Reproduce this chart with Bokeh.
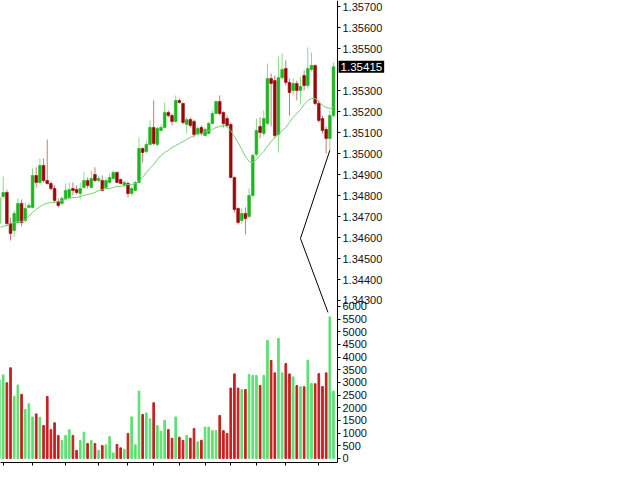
from bokeh.plotting import figure
from bokeh.models import Range1d, FixedTicker, CustomJSTickFormatter, ColumnDataSource, Label
from bokeh.embed import file_html
from bokeh.resources import INLINE

# ---- EURUSD M5 bars (bar 0 is the partly scrolled-off one on the left) ----
opens = [1.34667, 1.34796, 1.34815, 1.34667, 1.34634, 1.34672, 1.34763, 1.34682, 1.34744, 1.34744,
         1.34896, 1.34863, 1.34944, 1.34872, 1.34858, 1.34834, 1.34772, 1.34763, 1.34787, 1.34791,
         1.34834, 1.34829, 1.34810, 1.34839, 1.34872, 1.34839, 1.34901, 1.34872, 1.34872, 1.34839,
         1.34863, 1.34882, 1.34911, 1.34877, 1.34849, 1.34858, 1.34810, 1.34825, 1.34863, 1.35025,
         1.35011, 1.35044, 1.35125, 1.35044, 1.35111, 1.35125, 1.35197, 1.35182, 1.35154, 1.35254,
         1.35240, 1.35140, 1.35163, 1.35154, 1.35097, 1.35125, 1.35087, 1.35097, 1.35144, 1.35192,
         1.35249, 1.35197, 1.35168, 1.35140, 1.34887, 1.34739, 1.34682, 1.34715, 1.34701, 1.34801,
         1.34997, 1.35130, 1.35097, 1.35144, 1.35359, 1.35349, 1.35092, 1.35363, 1.35407, 1.35340,
         1.35302, 1.35335, 1.35302, 1.35373, 1.35325, 1.35402, 1.35421, 1.35240, 1.35168, 1.35116,
         1.35073, 1.35182]
highs = [1.34825, 1.34891, 1.34829, 1.34696, 1.34729, 1.34787, 1.34782, 1.34767, 1.34767, 1.34930,
         1.34935, 1.34977, 1.34977, 1.35068, 1.34868, 1.34849, 1.34787, 1.34796, 1.34858, 1.34863,
         1.34863, 1.34849, 1.34863, 1.34911, 1.34887, 1.34920, 1.34935, 1.34896, 1.34896, 1.34887,
         1.34906, 1.34920, 1.34915, 1.34882, 1.34872, 1.34868, 1.34844, 1.34872, 1.35078, 1.35030,
         1.35063, 1.35159, 1.35254, 1.35130, 1.35140, 1.35244, 1.35206, 1.35192, 1.35278, 1.35263,
         1.35244, 1.35173, 1.35173, 1.35163, 1.35130, 1.35135, 1.35125, 1.35154, 1.35206, 1.35254,
         1.35278, 1.35202, 1.35182, 1.35149, 1.34891, 1.34744, 1.34739, 1.34744, 1.34834, 1.35001,
         1.35168, 1.35173, 1.35206, 1.35430, 1.35383, 1.35373, 1.35464, 1.35478, 1.35445, 1.35359,
         1.35359, 1.35349, 1.35368, 1.35397, 1.35507, 1.35483, 1.35426, 1.35254, 1.35182, 1.35130,
         1.35206, 1.35435]
lows = [1.34653, 1.34787, 1.34653, 1.34586, 1.34605, 1.34662, 1.34653, 1.34672, 1.34739, 1.34739,
        1.34839, 1.34853, 1.34863, 1.34853, 1.34825, 1.34767, 1.34744, 1.34753, 1.34782, 1.34787,
        1.34801, 1.34806, 1.34782, 1.34834, 1.34834, 1.34834, 1.34863, 1.34863, 1.34820, 1.34834,
        1.34858, 1.34877, 1.34858, 1.34853, 1.34839, 1.34791, 1.34801, 1.34820, 1.34858, 1.34958,
        1.35001, 1.35039, 1.35039, 1.35035, 1.35106, 1.35120, 1.35173, 1.35135, 1.35149, 1.35240,
        1.35140, 1.35097, 1.35125, 1.35078, 1.35087, 1.35087, 1.35082, 1.35092, 1.35140, 1.35187,
        1.35182, 1.35125, 1.35125, 1.34882, 1.34720, 1.34662, 1.34667, 1.34615, 1.34691, 1.34791,
        1.34987, 1.35073, 1.35082, 1.35135, 1.35130, 1.35073, 1.35006, 1.35354, 1.35325, 1.35182,
        1.35278, 1.35254, 1.35235, 1.35302, 1.35311, 1.35392, 1.35230, 1.35149, 1.35097, 1.35001,
        1.35016, 1.35173]
closes = [1.34791, 1.34815, 1.34667, 1.34620, 1.34715, 1.34763, 1.34672, 1.34739, 1.34753, 1.34896,
          1.34863, 1.34944, 1.34872, 1.34858, 1.34834, 1.34777, 1.34753, 1.34787, 1.34825, 1.34829,
          1.34825, 1.34815, 1.34834, 1.34872, 1.34849, 1.34882, 1.34872, 1.34882, 1.34825, 1.34872,
          1.34887, 1.34911, 1.34863, 1.34858, 1.34863, 1.34810, 1.34834, 1.34863, 1.35025, 1.35006,
          1.35044, 1.35125, 1.35049, 1.35120, 1.35125, 1.35197, 1.35182, 1.35154, 1.35254, 1.35244,
          1.35149, 1.35163, 1.35135, 1.35092, 1.35120, 1.35097, 1.35116, 1.35144, 1.35192, 1.35249,
          1.35192, 1.35144, 1.35135, 1.34887, 1.34734, 1.34672, 1.34715, 1.34691, 1.34801, 1.34992,
          1.35111, 1.35101, 1.35168, 1.35359, 1.35335, 1.35087, 1.35363, 1.35402, 1.35340, 1.35292,
          1.35335, 1.35302, 1.35321, 1.35325, 1.35407, 1.35421, 1.35240, 1.35159, 1.35111, 1.35073,
          1.35182, 1.35415]
volumes = [3100, 3300, 2990, 3580, 2460, 2900, 2530, 1930, 2160, 1640,
           1760, 1620, 1300, 2450, 1140, 1410, 910, 710, 910, 1140,
           910, 320, 710, 1040, 590, 710, 590, 320, 510, 540,
           860, 220, 550, 420, 360, 990, 1640, 540, 2660, 1740,
           1800, 1570, 2200, 1300, 1080, 1510, 1140, 800, 1640, 840,
           710, 910, 800, 1180, 660, 720, 1240, 1240, 1100, 1100,
           1700, 1100, 990, 2780, 3340, 2780, 2720, 2720, 3320, 3280,
           3280, 2880, 3280, 4660, 3870, 3380, 4740, 3380, 3750, 3340,
           3220, 2880, 2830, 2830, 3880, 2960, 2950, 3350, 2840, 3380,
           5590, 2660]
moving_average = [1.34648, 1.34653, 1.34658, 1.34667, 1.34672, 1.34677, 1.34677, 1.34686, 1.34701, 1.34720,
                  1.34734, 1.34748, 1.34758, 1.34763, 1.34767, 1.34767, 1.34772, 1.34777, 1.34782, 1.34787,
                  1.34791, 1.34791, 1.34796, 1.34801, 1.34806, 1.34810, 1.34815, 1.34825, 1.34829, 1.34834,
                  1.34834, 1.34839, 1.34844, 1.34844, 1.34849, 1.34853, 1.34853, 1.34858, 1.34868, 1.34887,
                  1.34911, 1.34930, 1.34949, 1.34973, 1.34992, 1.35006, 1.35016, 1.35030, 1.35039, 1.35049,
                  1.35058, 1.35068, 1.35078, 1.35087, 1.35092, 1.35097, 1.35106, 1.35111, 1.35116, 1.35125,
                  1.35130, 1.35135, 1.35130, 1.35111, 1.35082, 1.35054, 1.35020, 1.34987, 1.34963, 1.34958,
                  1.34973, 1.34992, 1.35011, 1.35035, 1.35058, 1.35078, 1.35092, 1.35111, 1.35125, 1.35149,
                  1.35173, 1.35192, 1.35211, 1.35235, 1.35254, 1.35263, 1.35263, 1.35249, 1.35230, 1.35221,
                  1.35216, 1.35221]
zigzag_bar = [90, 82, 89.5]
zigzag_price = [1.35016, 1.34596, 1.34243]
last_price = 1.35415
last_price_text = "1.35415"
price_ticks = [1.343, 1.344, 1.345, 1.346, 1.347, 1.348, 1.349, 1.350,
               1.351, 1.352, 1.353, 1.355, 1.356, 1.357]
volume_ticks = [0, 500, 1000, 1500, 2000, 2500, 3000, 3500, 4000, 4500, 5000, 5500, 6000]
session_ticks = [1, 9, 18, 27, 35, 42, 49, 56, 63, 70, 78, 87]

# ---- colours ----
BULL_BODY, BULL_WICK = "#1fb51f", "#86dc86"
BEAR_BODY, BEAR_WICK = "#980808", "#c87a7a"
BULL_VOL, BEAR_VOL = "#5ce072", "#c81e1e"
MA_COLOR = "#72d072"

# geometry: the chart area is 337 px wide; the price scale sits at its right edge
PX_PER_BAR = 3.67
CHART_W, FRAME_H = 337, 462
RIGHT_BORDER = 100
FRAME_W = 625 - RIGHT_BORDER
X_LO = 0.264
AXIS_X = X_LO + CHART_W / PX_PER_BAR
X_HI = X_LO + FRAME_W / PX_PER_BAR

# price and volume share one frame: volume lives in the lower strip
PRICE_LO, PRICE_HI = 1.33527, 1.35731
VOL_LO, VOL_HI = -158, 18079

idx = list(range(len(opens)))
up = [c >= o for o, c in zip(opens, closes)]
src = ColumnDataSource(dict(
    x=idx,
    top=[max(o, c) for o, c in zip(opens, closes)],
    bottom=[min(o, c) for o, c in zip(opens, closes)],
    high=highs, low=lows, vol=volumes,
    body=[BULL_BODY if u else BEAR_BODY for u in up],
    wick=[BULL_WICK if u else BEAR_WICK for u in up],
    volc=[BULL_VOL if u else BEAR_VOL for u in up],
))

p = figure(width=625, height=483, output_backend="svg", toolbar_location=None,
           x_range=Range1d(X_LO, X_HI), y_range=Range1d(PRICE_LO, PRICE_HI),
           y_axis_location="right",
           min_border_left=0, min_border_top=0,
           min_border_right=RIGHT_BORDER, min_border_bottom=483 - FRAME_H)
p.extra_y_ranges = {"vol": Range1d(VOL_LO, VOL_HI)}
p.outline_line_color = None
p.grid.grid_line_color = None
p.background_fill_color = "white"
p.border_fill_color = "white"

# volume histogram
p.vbar(x="x", top="vol", bottom=0, width=0.45, color="volc", source=src, y_range_name="vol")

# candles
p.segment(x0="x", y0="low", x1="x", y1="high", color="wick", line_width=1, source=src)
p.vbar(x="x", top="top", bottom="bottom", width=0.74, fill_color="body",
       line_color="body", line_width=0.6, source=src)

# moving average and zigzag
p.line(idx, moving_average, color=MA_COLOR, line_width=1)
p.line(zigzag_bar, zigzag_price, color="black", line_width=1)

# right scale: price ticks on top, volume ticks below, one shared axis line
def vol_to_price(v):
    return PRICE_LO + (v - VOL_LO) / (VOL_HI - VOL_LO) * (PRICE_HI - PRICE_LO)

yax = p.yaxis[0]
yax.fixed_location = AXIS_X
yax.ticker = FixedTicker(ticks=price_ticks + [vol_to_price(v) for v in volume_ticks], minor_ticks=[])
yax.formatter = CustomJSTickFormatter(
    args=dict(p0=PRICE_LO, p1=PRICE_HI, v0=VOL_LO, v1=VOL_HI),
    code="""
    if (tick > 1.3429) { return tick.toFixed(5); }
    return String(Math.round(v0 + (tick - p0) / (p1 - p0) * (v1 - v0)));
    """)
yax.major_label_text_font = "Liberation Sans"
yax.major_label_text_font_size = "11px"
yax.major_label_text_color = "#111111"
yax.major_label_standoff = 2
yax.major_tick_in = 0
yax.major_tick_out = 3
yax.axis_line_color = "black"
yax.major_tick_line_color = "black"

xax = p.xaxis[0]
xax.bounds = (X_LO, AXIS_X)
xax.ticker = FixedTicker(ticks=session_ticks, minor_ticks=[])
xax.major_label_overrides = {t: "" for t in session_ticks}
xax.major_tick_in = 0
xax.major_tick_out = 3
xax.axis_line_color = "black"
xax.major_tick_line_color = "black"

# last price marker on the scale, just right of the axis line
p.add_layout(Label(x=AXIS_X + 0.3, y=last_price, text=last_price_text,
                   text_font="Liberation Sans", text_font_size="11.5px", text_color="white",
                   text_baseline="middle", text_align="left",
                   background_fill_color="black", padding=2))

open("out.html", "w").write(file_html(p, INLINE))
